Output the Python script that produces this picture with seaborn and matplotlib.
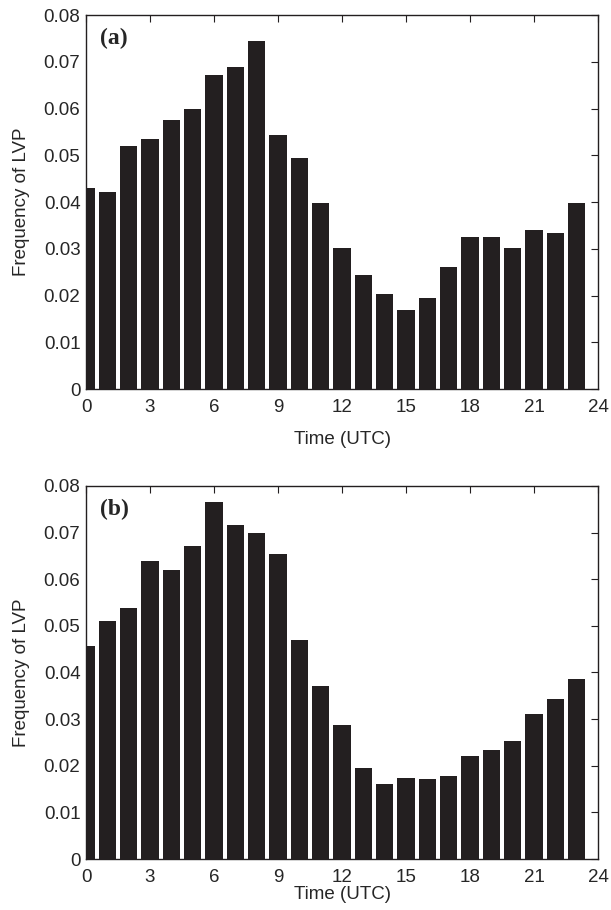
import numpy as np
import seaborn as sns
import matplotlib.pyplot as plt

# hourly frequency of low visibility procedures (LVP)
hours = list(range(24))
freq_a = [0.0429, 0.0422, 0.0519, 0.0535, 0.0575, 0.0600, 0.0672, 0.0689,
          0.0745, 0.0543, 0.0494, 0.0398, 0.0301, 0.0244, 0.0203, 0.0170,
          0.0195, 0.0260, 0.0325, 0.0325, 0.0301, 0.0341, 0.0333, 0.0398]
freq_b = [0.0457, 0.0510, 0.0539, 0.0640, 0.0619, 0.0671, 0.0765, 0.0716,
          0.0699, 0.0654, 0.0469, 0.0371, 0.0287, 0.0195, 0.0161, 0.0174,
          0.0171, 0.0179, 0.0222, 0.0234, 0.0253, 0.0310, 0.0344, 0.0386]
panel_labels = ['(a)', '(b)']
xticks = [0, 3, 6, 9, 12, 15, 18, 21, 24]
yticks = [0, 0.01, 0.02, 0.03, 0.04, 0.05, 0.06, 0.07, 0.08]
ytick_labels = ['0', '0.01', '0.02', '0.03', '0.04', '0.05', '0.06', '0.07', '0.08']

sns.set_theme(style="white")
plt.rcParams['font.family'] = ['Liberation Sans', 'DejaVu Sans']

fig = plt.figure(figsize=(6.11, 9.10), dpi=100)
ax1 = fig.add_axes([0.1408, 0.5725, 0.838, 0.411])
ax2 = fig.add_axes([0.1408, 0.056, 0.838, 0.410])

for ax, vals, label, xpad in zip([ax1, ax2], [freq_a, freq_b], panel_labels, [11, 0.5]):
    sns.barplot(x=hours, y=vals, native_scale=True, width=0.82,
                color='#231f20', saturation=1, edgecolor='none', ax=ax)
    ax.set_xlim(0, 24)
    ax.set_ylim(0, 0.08)
    ax.set_xticks(xticks)
    ax.set_xticklabels([str(t) for t in xticks])
    ax.set_yticks(yticks)
    ax.set_yticklabels(ytick_labels)
    ax.tick_params(direction='in', top=True, right=True, length=5,
                   width=0.8, color='#231f20', labelsize=13.5, pad=4)
    ax.tick_params(axis='x', pad=7)
    for s in ax.spines.values():
        s.set_visible(True)
        s.set_color('#231f20')
        s.set_linewidth(1.0)
    ax.set_xlabel('Time (UTC)', fontsize=13.5, labelpad=xpad)
    ax.set_ylabel('Frequency of LVP', fontsize=13.5, labelpad=10)
    ax.text(0.028, 0.965, label, transform=ax.transAxes, ha='left', va='top',
            fontsize=17, fontweight='bold', family=['Liberation Serif'])

fig.savefig('out.png', dpi=100)
